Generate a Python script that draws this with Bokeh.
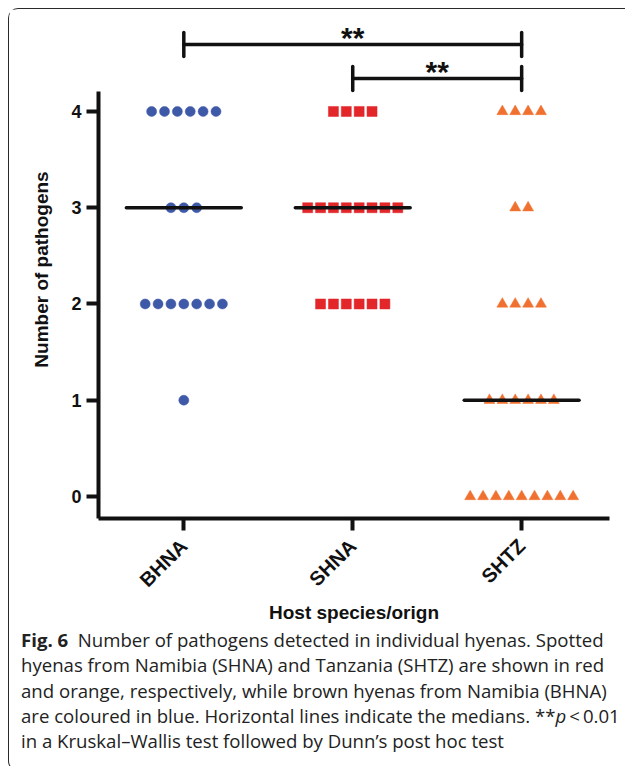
import numpy as np
from bokeh.plotting import figure
from bokeh.models import FixedTicker, Range1d, Div
from bokeh.layouts import column
from bokeh.embed import file_html
from bokeh.resources import INLINE
from bokeh.core.properties import value

# ---------------- data ----------------
groups = ["BHNA", "SHNA", "SHTZ"]
levels = [0, 1, 2, 3, 4]
bhna_counts = [0, 1, 7, 3, 6]
shna_counts = [0, 0, 6, 8, 4]
shtz_counts = [9, 6, 4, 2, 4]
medians = [3, 3, 1]
comparisons = [("BHNA", "SHTZ", "**"), ("SHNA", "SHTZ", "**")]
y_ticks = [0, 1, 2, 3, 4]
x_title = "Host species/orign"
y_title = "Number of pathogens"
colors = ["#3F59A9", "#E2262A", "#F0702F"]
markers = ["circle", "square", "triangle"]
marker_sizes = [10, 10, 11]

caption_html = (
    "<b>Fig.\u00a06</b>&nbsp; Number of pathogens detected in individual hyenas. Spotted<br>"
    "hyenas from Namibia (SHNA) and Tanzania (SHTZ) are shown in red<br>"
    "and orange, respectively, while brown hyenas from Namibia (BHNA)<br>"
    "are coloured in blue. Horizontal lines indicate the medians. "
    "**<i>p</i>\u2009&lt;\u20090.01<br>"
    "in a Kruskal\u2013Wallis test followed by Dunn\u2019s post hoc test"
)

# ---------------- figure ----------------
FONT = "Liberation Sans"
Y0, Y1 = -0.2286, 4.945
p = figure(
    width=615, height=618, output_backend="svg", toolbar_location=None,
    x_range=Range1d(0.495, 3.52), y_range=Range1d(Y0, Y1),
    min_border_left=89, min_border_right=15, min_border_top=11, min_border_bottom=109,
    background_fill_color="white", border_fill_color="white",
)
p.outline_line_color = None
p.grid.visible = False

gpos = {g: i + 1 for i, g in enumerate(groups)}
step = 0.0762
all_counts = [bhna_counts, shna_counts, shtz_counts]
for gi, (g, counts) in enumerate(zip(groups, all_counts)):
    xs, ys = [], []
    for lev, n in zip(levels, counts):
        for i in range(n):
            xs.append(gpos[g] + (i - (n - 1) / 2) * step)
            ys.append(lev)
    p.scatter(xs, ys, marker=markers[gi], size=marker_sizes[gi],
              fill_color=colors[gi], line_color=colors[gi], line_width=0.5)

# median lines
hw = 0.34
mx = [gpos[g] for g in groups]
p.segment(x0=[x - hw for x in mx], x1=[x + hw for x in mx], y0=medians, y1=medians,
          line_color="#111111", line_width=3.5, line_cap="round")

# significance brackets
heights = [4.696, 4.343]
th = 0.125
for (a, b, lab), h in zip(comparisons, heights):
    xa, xb = gpos[a], gpos[b]
    p.segment(x0=[xa, xa, xb], x1=[xb, xa, xb], y0=[h, h - th, h - th], y1=[h, h + th, h + th],
              line_color="#111111", line_width=3.5, line_cap="round")
    p.text(x=[(xa + xb) / 2], y=[h], text=[lab], text_font=value(FONT),
           text_font_style="bold", text_font_size="30px", text_align="center",
           text_baseline="alphabetic", text_color="#111111", y_offset=-7)

# axes
xa_ = p.xaxis[0]
xa_.ticker = FixedTicker(ticks=[gpos[g] for g in groups])
xa_.major_label_overrides = {gpos[g]: g for g in groups}
xa_.major_label_orientation = np.pi / 4
xa_.axis_label = x_title
ya_ = p.yaxis[0]
ya_.ticker = FixedTicker(ticks=y_ticks)
ya_.axis_label = y_title
ya_.bounds = (Y0, 4.21)
for ax in (xa_, ya_):
    ax.axis_line_width = 4
    ax.axis_line_color = "#111111"
    ax.major_tick_line_width = 4
    ax.major_tick_line_color = "#111111"
    ax.major_tick_in = 0
    ax.major_tick_out = 12
    ax.minor_tick_line_color = None
    ax.major_label_text_font = FONT
    ax.major_label_text_font_style = "bold"
    ax.major_label_text_font_size = "18px"
    ax.major_label_text_color = "#111111"
    ax.axis_label_text_font = FONT
    ax.axis_label_text_font_style = "bold"
    ax.axis_label_text_font_size = "19px"
    ax.axis_label_text_color = "#111111"
xa_.major_label_text_font_size = "20px"
xa_.major_label_standoff = 12
xa_.axis_label_standoff = 0
ya_.major_label_standoff = 5
ya_.axis_label_standoff = 16

caption = Div(
    text=caption_html, width=615, height=133,
    styles={"font-family": "Open Sans", "font-size": "18.6px", "line-height": "25.3px",
            "color": "#222222", "padding-left": "7px", "white-space": "nowrap",
            "position": "relative", "top": "-5px"},
)

layout = column(p, caption, styles={
    "margin-left": "8px", "margin-top": "8px",
    "border-top": "1.5px solid #2a2a2a", "border-left": "1.5px solid #2a2a2a",
    "border-bottom": "1.5px solid #2a2a2a", "border-radius": "10px 0 0 10px",
    "background-color": "white",
})

open("out.html", "w").write(file_html(layout, INLINE))
